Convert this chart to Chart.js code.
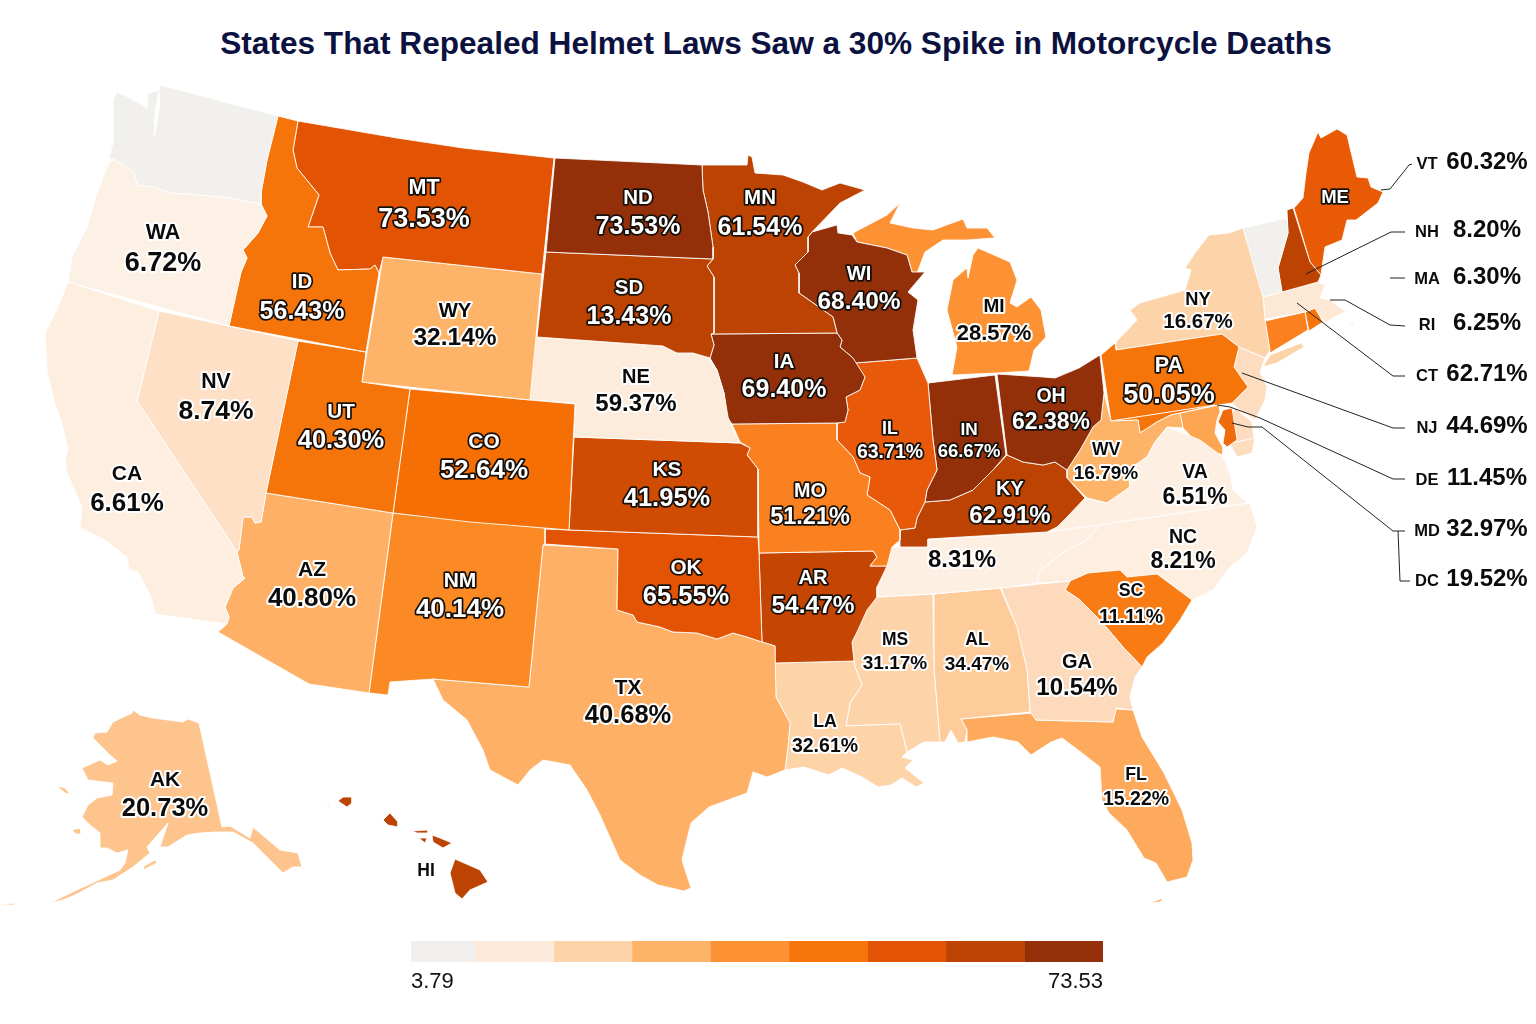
<!DOCTYPE html>
<html>
<head>
<meta charset="utf-8">
<title>Helmet laws map</title>
<script src="https://cdn.jsdelivr.net/npm/chart.js@4"></script>
<style>
  html, body { margin: 0; padding: 0; background: #fff; }
  #wrap { position: relative; width: 1536px; height: 1024px; overflow: hidden; }
  #mapChart { position: absolute; left: 0; top: 0; }
  #scaleChart { position: absolute; left: 411px; top: 941px; }
  h1 { position: absolute; left: 0; width: 1552px; top: 25px; margin: 0; text-align: center;
       font: bold 31.6px "Liberation Sans", sans-serif; color: #0c1240; }
</style>
</head>
<body>
<div id="wrap">
  <h1>States That Repealed Helmet Laws Saw a 30% Spike in Motorcycle Deaths</h1>
  <canvas id="mapChart" width="1536" height="1024"></canvas>
  <canvas id="scaleChart" width="692" height="54"></canvas>
</div>
<script>
// labels as printed on the map
const inMapCodes = ['WA','ID','MT','ND','MN','SD','WI','MI','NY','PA','OH','WY','NV','UT','CO','NE','IA','IL','IN','KS','MO','KY','WV','VA','CA','AZ','NM','OK','AR','NC','SC','MS','AL','GA','TX','LA','FL','AK'];
const inMapValues = [6.72,56.43,73.53,73.53,61.54,13.43,68.40,28.57,16.67,50.05,62.38,32.14,8.74,40.30,52.64,59.37,69.40,63.71,66.67,41.95,51.21,62.91,16.79,6.51,6.61,40.80,40.14,65.55,54.47,8.21,11.11,31.17,34.47,10.54,40.68,32.61,15.22,20.73];
const inMapX = [163,302,424,638,760,629,859,994,1198,1169,1051,455,216,341,484,636,784,890,969,667,810,1010,1106,1195,127,312,460,686,813,1183,1131,895,977,1077,628,825,1136,165];
const codeY = [232,281,187,197,197,287,273,305,299,365,395,310,381,411,441,376,361,428,429,469,490,488,449,471,473,569,580,567,577,536,590,639,639,661,687,721,774,779];
const valueY = [262,310,218,225,226,315,301,332,321,394,421,337,410,439,469,403,388,451,451,497,516,515,472,496,502,597,608,595,605,560,616,662,663,687,714,745,798,807];
const valueFont = [27,25,27,25,25,25,24.5,22,20.5,27,23,24.5,26.5,25.5,26,24,25,19.5,18.5,25.5,23.5,24,19,23,26,26,26,25.5,24.5,23,19.5,19,19,24,25.5,19.5,19.5,25.5];
const whiteText = ['ID','MT','ND','MN','SD','WI','PA','OH','UT','CO','IA','IL','IN','KS','MO','KY','NM','OK','AR'];

// labels with no code on the map itself
const tnValue = 8.31;
const sideCodes = ['VT','NH','MA','RI','CT','NJ','DE','MD','DC'];
const sideValues = [60.32,8.20,6.30,6.25,62.71,44.69,11.45,32.97,19.52];
const sideY = [161,229,276,322,373,425,477,528,578];

// colour scale
const scaleEdges = [3.79,10.24,18.15,26.06,33.97,41.88,49.79,57.70,65.62,73.53];
const scaleColors = ['#f2f0ec','#fdeadb','#fdd4a9','#fdb368','#fc9234','#f6750a','#e25404','#bd4302','#933009'];

// state outlines, in map units (1 unit = 1 px of the reference)
const outlines = {
  PUGET: [[[155,112],[159,92],[160,104],[157,122],[154,137]]],
  WA: [[[160,85],[278,116],[267,160],[261,193],[261,204],[230,198],[190,194],[170,193],[153,187],[137,185],[134,172],[123,165],[115,160],[109,158],[113,143],[113,100],[117,92],[130,98],[147,108],[148,93],[160,90]]],
  OR: [[[109,162],[115,160],[123,165],[134,172],[137,185],[153,187],[170,193],[190,194],[230,198],[261,204],[267,216],[258,233],[243,250],[247,258],[241,272],[229,326],[68,282],[72,257],[87,227],[97,193],[108,165]]],
  CA: [[[68,282],[159,311],[137,401],[237,552],[243,577],[245,578],[233,588],[225,607],[229,617],[227,624],[155,614],[151,597],[138,572],[129,570],[127,557],[105,540],[80,528],[82,507],[67,473],[65,460],[68,450],[62,423],[55,405],[47,370],[45,333],[58,307]]],
  NV: [[[159,311],[298,341],[266,493],[261,522],[255,523],[252,517],[243,517],[239,550],[237,552],[137,401]]],
  ID: [[[278,116],[298,121],[293,150],[297,168],[319,195],[308,227],[323,227],[330,253],[338,270],[370,269],[375,265],[379,273],[366,352],[229,326],[241,272],[247,258],[243,250],[258,233],[267,216],[261,204],[261,193],[267,160]]],
  MT: [[[298,121],[397,138],[463,148],[554,158],[542,274],[383,257],[379,273],[375,265],[370,269],[338,270],[330,253],[323,227],[308,227],[319,195],[297,168],[293,150]]],
  WY: [[[383,257],[542,274],[530,400],[362,382]]],
  UT: [[[298,341],[366,352],[362,382],[410,389],[393,513],[266,493]]],
  CO: [[[410,389],[530,400],[575,404],[569,530],[470,522],[393,513]]],
  AZ: [[[266,493],[393,513],[369,693],[309,684],[218,632],[227,624],[229,617],[225,607],[233,588],[245,578],[243,577],[237,552],[239,550],[243,517],[252,517],[255,523],[261,522]]],
  NM: [[[393,513],[545,528],[545,544],[543,545],[529,687],[433,679],[390,682],[388,695],[369,693]]],
  ND: [[[555,158],[702,165],[703,190],[708,212],[713,247],[713,259],[546,252]]],
  SD: [[[546,252],[713,259],[707,266],[714,277],[714,333],[711,334],[714,345],[710,358],[693,353],[677,353],[663,346],[537,337]]],
  NE: [[[535,337],[663,346],[677,353],[693,353],[708,358],[717,370],[724,393],[728,417],[733,430],[740,443],[574,437],[575,403],[530,400]]],
  KS: [[[574,437],[740,443],[750,448],[747,455],[758,469],[758,537],[569,530]]],
  OK: [[[545,529],[569,530],[758,537],[759,553],[762,642],[747,637],[733,633],[717,639],[697,633],[673,632],[660,627],[637,622],[633,615],[617,610],[618,549],[544,544]]],
  TX: [[[543,545],[618,549],[617,610],[633,615],[637,622],[660,627],[673,632],[697,633],[717,639],[733,633],[747,637],[762,642],[775,646],[776,697],[790,723],[788,747],[785,770],[767,777],[753,772],[747,793],[709,807],[691,823],[685,847],[682,860],[691,888],[684,891],[658,885],[640,875],[620,860],[600,815],[587,790],[570,765],[543,760],[530,770],[518,785],[490,770],[483,750],[467,720],[443,700],[433,679],[529,687]]],
  MN: [[[702,165],[747,165],[748,155],[752,157],[755,173],[783,175],[803,182],[822,190],[840,183],[865,190],[840,203],[812,232],[808,237],[808,252],[795,265],[799,273],[799,293],[833,317],[837,333],[711,334],[714,333],[714,277],[707,266],[713,259],[713,247],[708,212],[703,190]]],
  IA: [[[711,334],[837,333],[842,340],[840,347],[853,358],[865,377],[860,390],[846,397],[848,410],[845,422],[837,423],[732,424],[727,417],[724,393],[717,370],[710,358],[714,345]]],
  MO: [[[732,424],[837,423],[837,440],[853,457],[860,473],[870,477],[867,495],[890,510],[900,530],[900,540],[892,547],[887,566],[870,566],[877,557],[873,551],[759,553],[758,469],[747,455],[750,448],[740,442]]],
  AR: [[[759,553],[873,551],[877,557],[870,566],[887,566],[877,587],[877,597],[867,610],[858,630],[852,642],[854,661],[775,663],[775,646],[762,642]]],
  LA: [[[775,663],[854,661],[855,667],[862,685],[850,703],[846,726],[900,724],[907,752],[902,757],[913,760],[905,768],[924,783],[916,787],[902,778],[891,785],[878,787],[862,777],[842,768],[829,775],[804,767],[785,770],[788,747],[790,723],[776,697]]],
  WI: [[[812,232],[837,225],[838,233],[852,235],[857,242],[887,248],[907,255],[912,272],[925,272],[908,292],[918,300],[913,330],[917,358],[855,363],[853,358],[840,347],[842,340],[837,333],[833,317],[799,293],[799,273],[795,265],[808,252],[808,237]]],
  IL: [[[855,363],[917,358],[928,383],[933,440],[937,470],[927,490],[925,502],[917,518],[915,528],[900,530],[890,510],[867,495],[870,477],[860,473],[853,457],[837,440],[837,423],[845,422],[848,410],[846,397],[860,390],[865,377]]],
  MI: [[[952,375],[957,347],[947,310],[953,280],[967,268],[968,278],[973,255],[978,248],[1010,262],[1017,280],[1010,303],[1017,307],[1031,297],[1041,310],[1046,337],[1034,350],[1029,371],[997,373]],
       [[853,233],[887,215],[900,203],[890,223],[913,228],[933,230],[963,219],[967,228],[987,228],[995,238],[1007,237],[967,240],[943,240],[925,252],[917,273],[912,272],[907,255],[887,248],[857,242]]],
  IN: [[[928,383],[995,375],[1006,455],[993,470],[973,490],[950,500],[925,502],[927,490],[937,470],[933,440]]],
  OH: [[[997,374],[1043,377],[1055,378],[1079,368],[1100,355],[1104,393],[1101,420],[1093,427],[1080,450],[1067,470],[1055,462],[1043,465],[1023,462],[1007,455]]],
  KY: [[[900,547],[900,530],[915,528],[917,518],[925,502],[950,500],[973,490],[993,470],[1007,455],[1023,462],[1043,465],[1055,462],[1067,470],[1067,478],[1085,498],[1067,517],[1057,527],[1047,532],[928,539],[928,547]]],
  TN: [[[928,540],[1047,532],[1100,525],[1087,540],[1067,550],[1040,570],[1037,583],[1001,588],[933,594],[877,597],[877,587],[887,566],[892,547],[928,547]]],
  MS: [[[877,597],[933,594],[934,670],[940,742],[924,742],[907,752],[900,724],[846,726],[850,703],[862,685],[855,667],[854,661],[852,642],[858,630],[867,610]]],
  AL: [[[934,594],[1000,588],[1017,627],[1027,670],[1030,712],[961,719],[967,730],[965,742],[958,743],[951,730],[945,742],[940,742],[934,670]]],
  GA: [[[1001,588],[1070,581],[1065,590],[1080,600],[1100,620],[1123,647],[1142,667],[1135,677],[1130,697],[1133,710],[1116,708],[1113,722],[1036,720],[1030,712],[1027,670],[1017,627]]],
  FL: [[[961,719],[1033,713],[1036,720],[1113,722],[1116,709],[1133,710],[1142,737],[1164,773],[1182,810],[1192,843],[1193,860],[1187,877],[1167,882],[1156,863],[1144,858],[1127,830],[1109,813],[1102,800],[1100,767],[1082,753],[1062,738],[1051,742],[1031,755],[1018,742],[993,737],[967,742],[967,730]],
       [[1149,903],[1164,898],[1160,902]]],
  SC: [[[1065,590],[1070,581],[1088,573],[1120,570],[1127,577],[1157,574],[1192,600],[1180,620],[1163,643],[1147,657],[1142,667],[1123,647],[1100,620],[1080,600]]],
  NC: [[[1037,583],[1040,570],[1067,550],[1087,540],[1100,525],[1250,503],[1257,527],[1247,553],[1230,567],[1213,590],[1192,600],[1157,574],[1127,577],[1120,570],[1088,573],[1070,581]]],
  VA: [[[1085,498],[1107,503],[1130,487],[1128,470],[1147,457],[1155,442],[1168,427],[1200,440],[1223,457],[1230,473],[1233,490],[1247,503],[1100,525],[1047,532],[1057,527],[1067,517]]],
  WV: [[[1104,393],[1111,421],[1138,420],[1140,433],[1157,422],[1171,415],[1180,413],[1183,428],[1167,427],[1155,442],[1147,457],[1128,470],[1130,487],[1107,503],[1087,498],[1067,478],[1067,470],[1080,450],[1093,427],[1101,420]]],
  MDW: [[[1111,421],[1215,405],[1171,415],[1157,422],[1140,433],[1138,420]]],
  MD: [[[1171,415],[1219,405],[1220,412],[1217,420],[1215,433],[1223,448],[1223,455],[1202,448],[1183,428],[1180,413]]],
  DE: [[[1223,410],[1232,408],[1237,440],[1227,447],[1223,443],[1225,430],[1218,422]]],
  DMV: [[[1235,408],[1252,422],[1254,438],[1237,442],[1232,413]],[[1230,443],[1255,438],[1252,453],[1237,457]]],
  PA: [[[1116,350],[1222,334],[1239,347],[1234,367],[1248,387],[1232,403],[1111,421],[1101,355],[1115,343]]],
  NJ: [[[1239,347],[1265,358],[1260,372],[1267,387],[1265,400],[1255,420],[1240,410],[1232,403],[1248,387],[1234,367]]],
  NY: [[[1243,228],[1255,270],[1263,297],[1265,320],[1270,350],[1265,358],[1239,347],[1222,334],[1116,350],[1116,342],[1137,320],[1130,310],[1140,303],[1185,290],[1191,270],[1185,268],[1195,253],[1209,235],[1229,233]],
       [[1263,367],[1270,355],[1301,343],[1304,347],[1277,363]]],
  VT: [[[1243,228],[1287,218],[1288,233],[1278,268],[1282,292],[1263,297],[1252,270]]],
  NH: [[[1287,210],[1293,208],[1310,262],[1321,275],[1318,282],[1282,292],[1278,268],[1288,233]]],
  ME: [[[1294,208],[1303,198],[1306,173],[1309,153],[1318,132],[1321,138],[1337,129],[1347,135],[1357,177],[1368,178],[1371,187],[1383,192],[1378,203],[1356,220],[1347,220],[1342,240],[1325,247],[1321,275],[1310,262]]],
  MA: [[[1263,297],[1282,292],[1318,282],[1325,285],[1320,298],[1330,300],[1347,313],[1350,310],[1333,318],[1325,323],[1315,308],[1305,312],[1265,319]],
       [[1329,325],[1336,325],[1333,327]],[[1348,323],[1354,322],[1353,325]]],
  CT: [[[1265,321],[1305,312],[1308,330],[1270,353],[1268,340]]],
  RI: [[[1305,312],[1315,308],[1323,322],[1309,331]]],
  AK: [[[133,710],[140,715],[153,718],[183,722],[188,719],[199,723],[222,827],[230,826],[250,838],[253,827],[260,833],[280,850],[298,853],[302,867],[293,867],[283,873],[267,857],[253,843],[233,832],[217,832],[200,833],[187,835],[168,847],[160,847],[168,823],[147,847],[150,853],[133,867],[113,880],[97,883],[77,894],[63,900],[50,903],[77,890],[120,870],[125,863],[128,850],[117,853],[107,848],[100,848],[100,833],[90,825],[82,817],[88,805],[97,798],[112,795],[113,783],[88,780],[82,768],[100,760],[108,765],[117,761],[110,755],[93,738],[95,733],[107,732],[113,722],[132,713]],
       [[57,786],[65,788],[70,794],[65,793]],[[72,830],[80,828],[81,834],[76,834]],[[143,870],[157,863],[155,860],[144,866]],[[0,905],[15,903],[15,905]]],
  HI: [[[338,801],[343,797],[352,797],[352,803],[347,807]],[[383,820],[390,813],[398,822],[398,827],[388,825]],[[412,831],[428,830],[428,833],[417,833]],[[419,838],[427,838],[425,843]],[[432,835],[440,838],[452,843],[443,848],[433,842]],[[455,859],[480,870],[488,882],[470,890],[462,899],[455,893],[450,873]],[[326,807],[329,804],[329,806]]]
};

const outlineFills = {
  PUGET:'#ffffff',
  WA:'#f2f0ec', OR:'#fdf0e5', CA:'#fdeee0', NV:'#fde0c5', ID:'#f6750a', MT:'#e25404', WY:'#fdb368', UT:'#f6750a', CO:'#f56f05',
  AZ:'#fdb066', NM:'#fb8a24', ND:'#933009', SD:'#bd4302', NE:'#fdebdb', KS:'#cf4c02', OK:'#e25404', TX:'#fdb066', MN:'#bd4302',
  IA:'#933009', MO:'#fb8120', AR:'#c54602', LA:'#fdd3a8', WI:'#933009', IL:'#e8590a', MI:'#fc9234', IN:'#933009', OH:'#933009',
  KY:'#bd4302', TN:'#feefe3', MS:'#fdd4a9', AL:'#fdcc9a', GA:'#fddabb', FL:'#fdaa5c', SC:'#f97b14', NC:'#fdeee0', VA:'#feefe3',
  WV:'#fdb368', MDW:'#f6750a', MD:'#fda550', DE:'#ee6a0a', DMV:'#fddcc0', PA:'#f6750a', NJ:'#fddcc0', NY:'#fdd4a9', VT:'#f2f0ec',
  NH:'#bd4302', ME:'#e85a05', MA:'#fde8d5', CT:'#fb8120', RI:'#f6750a', AK:'#fdc48e', HI:'#bd4302'
};

// leader lines to the side labels
const leaders = [
  [[1381,190],[1390,189],[1409,165],[1412,164]],
  [[1306,274],[1391,232],[1405,232]],
  [[1390,278],[1405,278]],
  [[1330,300],[1345,300],[1390,325],[1405,326]],
  [[1297,303],[1393,376],[1405,376]],
  [[1242,373],[1393,428],[1405,428]],
  [[1217,405],[1230,407],[1260,418],[1393,479],[1405,479]],
  [[1232,423],[1248,427],[1262,427],[1393,531],[1405,531]],
  [[1398,531],[1400,581],[1410,581]]
];

const toPoints = ring => ring.map(p => ({ x: p[0], y: p[1] }));

const datasets = [];
leaders.forEach(line => {
  datasets.push({
    data: toPoints(line),
    showLine: true,
    borderColor: '#222',
    borderWidth: 1,
    pointRadius: 0,
    fill: false,
    order: 0
  });
});
Object.keys(outlines).forEach(name => {
  outlines[name].forEach(ring => {
    datasets.push({
      data: toPoints(ring.concat([ring[0]])),
      showLine: true,
      borderColor: 'rgba(255,255,255,0.85)',
      borderWidth: 1,
      pointRadius: 0,
      backgroundColor: outlineFills[name],
      fill: 'shape',
      order: 1
    });
  });
});

function haloText(ctx, text, x, y, size, white) {
  ctx.font = 'bold ' + size + 'px "Liberation Sans", sans-serif';
  ctx.textAlign = 'center';
  ctx.textBaseline = 'middle';
  ctx.lineJoin = 'round';
  ctx.lineWidth = white ? 3.5 : 4;
  ctx.strokeStyle = white ? '#15100c' : '#fff';
  const yy = y + size * 0.07; // canvas middle sits a bit high
  ctx.strokeText(text, x, yy);
  ctx.fillStyle = white ? '#fff' : '#0b0b0b';
  ctx.fillText(text, x, yy);
}

const mapLabels = {
  id: 'mapLabels',
  afterDatasetsDraw(chart) {
    const ctx = chart.ctx;
    const sx = chart.scales.x;
    const sy = chart.scales.y;
    ctx.save();
    inMapCodes.forEach((code, i) => {
      const x = sx.getPixelForValue(inMapX[i]);
      const white = whiteText.includes(code);
      haloText(ctx, code, x, sy.getPixelForValue(codeY[i]), valueFont[i] * 0.5 + 8, white);
      haloText(ctx, inMapValues[i].toFixed(2) + '%', x, sy.getPixelForValue(valueY[i]), valueFont[i], white);
    });
    haloText(ctx, 'ME', sx.getPixelForValue(1335), sy.getPixelForValue(197), 18.5, true);
    haloText(ctx, 'HI', sx.getPixelForValue(426), sy.getPixelForValue(870), 17.5, false);
    haloText(ctx, tnValue.toFixed(2) + '%', sx.getPixelForValue(962), sy.getPixelForValue(559), 24, false);
    sideCodes.forEach((code, i) => {
      haloText(ctx, code, sx.getPixelForValue(1427), sy.getPixelForValue(sideY[i] + 2), 16.5, false);
      haloText(ctx, sideValues[i].toFixed(2) + '%', sx.getPixelForValue(1487), sy.getPixelForValue(sideY[i]), 24, false);
    });
    ctx.restore();
  }
};

new Chart(document.getElementById('mapChart'), {
  type: 'scatter',
  data: { datasets: datasets },
  options: {
    responsive: false,
    animation: false,
    events: [],
    layout: { padding: 0 },
    scales: {
      x: { type: 'linear', min: 0, max: 1536, display: false },
      y: { type: 'linear', min: 0, max: 1024, reverse: true, display: false }
    },
    plugins: { legend: { display: false }, tooltip: { enabled: false } }
  },
  plugins: [mapLabels]
});

new Chart(document.getElementById('scaleChart'), {
  type: 'bar',
  data: {
    labels: [''],
    datasets: scaleColors.map((c, i) => ({
      data: [[scaleEdges[i], scaleEdges[i + 1]]],
      backgroundColor: c,
      barPercentage: 1,
      categoryPercentage: 1
    }))
  },
  options: {
    indexAxis: 'y',
    responsive: false,
    animation: false,
    events: [],
    layout: { padding: 0 },
    scales: {
      x: {
        min: scaleEdges[0],
        max: scaleEdges[scaleEdges.length - 1],
        grid: { display: false, drawTicks: false },
        border: { display: false },
        afterBuildTicks(axis) {
          axis.ticks = [{ value: scaleEdges[0] }, { value: scaleEdges[scaleEdges.length - 1] }];
        },
        afterFit(axis) {
          // tick labels are inside the bar width, no side padding needed
          axis.paddingLeft = 0;
          axis.paddingRight = 0;
          // layout caps the axis at half the canvas, so set it by hand
          axis.height = 33;
        },
        ticks: {
          align: 'inner',
          maxRotation: 0,
          padding: 7,
          color: '#111',
          font: { family: '"Liberation Sans", sans-serif', size: 22 },
          callback: value => value.toFixed(2)
        }
      },
      y: { display: false, stacked: true }
    },
    plugins: { legend: { display: false }, tooltip: { enabled: false } }
  }
});
</script>
</body>
</html>
